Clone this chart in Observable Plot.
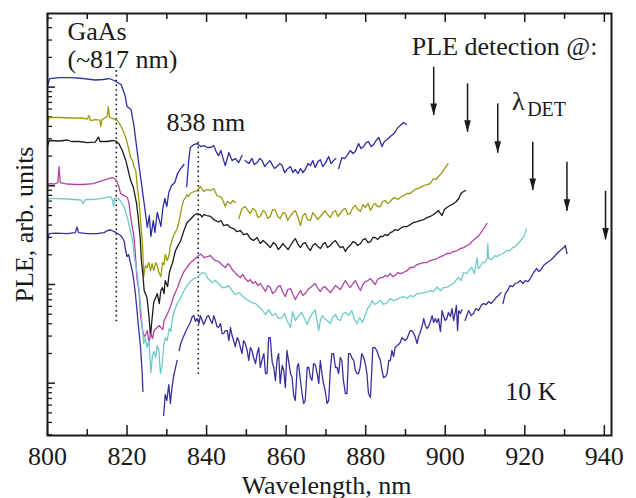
<!DOCTYPE html>
<html><head><meta charset="utf-8">
<script src="https://cdn.jsdelivr.net/npm/d3@7"></script>
<script src="https://cdn.jsdelivr.net/npm/@observablehq/plot@0.6"></script>
<style>body{margin:0;background:#fff} svg text{font-family:"Liberation Serif","Times New Roman",serif !important;}</style>
</head><body><div id="chart"></div>
<script>
// Tick values
const xTicksMajor = [800, 820, 840, 860, 880, 900, 920, 940];
const xTicksMinor = [810, 830, 850, 870, 890, 910, 930];
const yTicksMajor = [1, 10, 100, 1000];
const yTicksMinor = [0.3, 0.4, 0.5, 0.6, 0.7, 0.8, 0.9, 2, 3, 4, 5, 6, 7, 8, 9,
  20, 30, 40, 50, 60, 70, 80, 90, 200, 300, 400, 500, 600, 700, 800, 900, 2000, 3000, 4000, 5000];

// PLE spectra: [wavelength nm, log10(PLE, arb. units)], null = gap in the trace
const pleBlue = [[800.0,3.006],[800.5,3.087],[803,3.097],[806,3.097],[809,3.087],[812,3.072],[814,3.077],[815.5,3.087],[817,3.062],[818.5,3.026],[819.5,2.915],[820,2.803],[821,2.773],[821.8,2.591],[822.2,2.459],[823,2.205],[823.7,2.003],[824.3,1.821],[825.1,1.578],[825.6,1.699],[826.0,1.486],[826.6,1.648],[827.0,1.527],[827.6,1.730],[828.5,1.588],[829.0,1.770],[829.5,1.871],[830.0,1.790],[830.5,1.932],[831.2,2.003],[832.0,2.033],[832.7,2.124],[833.5,2.175],[834.3,2.216],[834.6,null],[835.0,1.993],[835.5,2.255],[835.9,2.388],[836.8,2.418],[837.6,2.428],[838.5,2.398],[839.3,2.407],[840.2,2.388],[841.0,2.388],[841.8,2.407],[842.4,2.347],[843.0,2.306],[843.6,2.357],[844.3,2.255],[844.7,2.205],[845.6,2.337],[846.4,2.255],[847.2,2.277],[848.1,2.236],[848.9,2.306],[849.3,null],[849.7,2.255],[850.6,2.225],[851.4,2.277],[852.0,2.215],[852.7,2.236],[853.4,2.277],[854.0,2.255],[854.6,2.195],[855.2,2.225],[855.9,2.255],[856.5,2.215],[857.1,2.175],[857.7,2.195],[858.4,2.225],[859.0,2.205],[859.6,2.134],[860.2,2.165],[861.1,2.195],[861.7,2.134],[862.3,2.165],[863.0,2.124],[863.6,2.175],[864.2,2.134],[864.8,2.165],[865.5,2.225],[866.1,2.205],[866.7,2.255],[867.3,2.185],[868.0,2.245],[868.6,2.265],[869.2,2.195],[869.8,2.225],[870.7,2.296],[871.3,2.225],[871.9,2.255],[872.5,2.276],[872.8,null],[873.2,2.175],[874.0,2.286],[874.7,2.276],[875.3,2.306],[876.1,2.357],[876.8,2.327],[877.4,2.347],[878.2,2.428],[878.8,2.378],[879.5,2.398],[880.1,2.438],[880.7,2.448],[881.4,2.398],[882.0,2.418],[882.6,2.459],[883.3,2.489],[884.1,2.398],[884.7,2.448],[885.4,2.469],[886.2,2.499],[886.8,2.519],[887.5,2.550],[888.1,2.591],[888.7,2.611],[889.5,2.641],[890.2,2.621]];

const pleOlive = [[800.0,2.621],[800.4,2.692],[803,2.692],[806,2.687],[808.5,2.687],[810.0,2.676],[810.4,2.712],[810.8,2.661],[812,2.671],[813.2,2.666],[813.4,2.600],[813.7,2.671],[815.0,2.702],[815.3,2.803],[815.6,2.692],[816.8,2.676],[817.6,2.661],[818.4,2.611],[819.3,2.529],[820.1,2.428],[820.9,2.286],[821.4,2.256],[821.8,2.185],[822.2,2.155],[822.6,1.982],[823.0,1.851],[823.4,1.648],[823.9,1.395],[824.2,1.081],[824.6,1.192],[825.0,1.172],[825.5,1.222],[825.9,1.141],[826.3,1.212],[826.7,1.141],[827.2,1.222],[827.6,1.192],[828.0,1.121],[828.5,1.081],[828.9,1.222],[829.3,1.202],[829.6,1.304],[830.1,1.243],[830.5,1.283],[830.9,1.395],[831.3,1.445],[831.7,1.496],[832.1,1.526],[832.6,1.567],[833.0,1.628],[833.4,1.709],[833.8,1.790],[834.2,1.851],[834.7,1.881],[835.1,1.911],[835.5,1.891],[835.9,1.922],[836.8,1.942],[837.6,1.952],[838.4,1.993],[839.3,1.942],[840.1,1.962],[841.0,1.952],[841.8,1.972],[842.6,1.901],[843.4,1.891],[843.9,1.871],[844.7,1.790],[845.2,1.841],[846.0,1.820],[846.6,1.851],[847.2,1.830],[847.6,null],[848.1,1.668],[848.9,1.770],[849.7,1.790],[850.4,1.749],[851.0,1.719],[851.6,1.770],[852.3,1.749],[852.9,1.678],[853.5,1.689],[854.2,1.749],[854.8,1.729],[855.4,1.668],[856.0,1.689],[856.6,1.759],[857.3,1.749],[857.9,1.689],[858.5,1.668],[859.2,1.729],[859.8,1.719],[860.4,1.648],[861.1,1.699],[861.7,1.729],[862.3,1.749],[863.0,1.678],[863.6,1.597],[864.2,1.699],[864.8,1.719],[865.4,1.658],[866.1,1.648],[866.7,1.729],[867.3,1.699],[867.9,1.658],[868.6,1.689],[869.2,1.719],[869.8,1.749],[870.4,1.709],[871.1,1.678],[871.7,1.729],[872.4,1.749],[873.0,1.689],[873.6,1.719],[874.3,1.759],[874.9,1.770],[875.5,1.709],[876.1,1.719],[876.8,1.780],[877.4,1.800],[878.0,1.759],[878.7,1.739],[879.3,1.810],[879.9,1.780],[880.6,1.820],[881.2,1.749],[881.8,1.800],[882.4,1.820],[883.0,1.790],[883.7,1.790],[884.3,1.841],[884.9,1.851],[885.5,1.820],[886.2,1.841],[886.8,1.871],[887.4,1.881],[888.1,1.861],[888.7,1.881],[889.5,1.901],[890.4,1.922],[891.2,1.922],[892.0,1.952],[892.9,1.972],[893.7,1.982],[894.6,2.003],[895.4,2.013],[896.2,2.023],[897.1,2.074],[897.7,2.064],[898.3,2.094],[899.2,2.134],[900.0,2.185],[900.7,2.226]];

const pleBlack = [[800.0,2.398],[800.4,2.459],[803,2.454],[805,2.464],[806,2.449],[808,2.449],[810,2.438],[812,2.443],[812.8,2.494],[813.2,2.449],[815,2.449],[816.5,2.459],[817.3,2.449],[818.0,2.423],[818.8,2.357],[819.7,2.256],[820.3,2.155],[820.9,2.053],[821.6,1.982],[821.9,1.921],[822.4,1.820],[822.8,1.678],[823.3,1.476],[823.6,1.243],[824.0,1.091],[824.3,0.939],[825.0,0.868],[825.5,0.685],[825.9,0.473],[826.2,0.615],[826.7,0.817],[827.2,0.868],[827.6,0.908],[828.1,0.807],[828.5,0.939],[828.9,0.969],[829.3,0.908],[829.6,1.040],[830.2,0.979],[830.6,1.111],[831.0,1.172],[831.4,1.212],[831.8,1.283],[832.2,1.344],[832.7,1.384],[833.1,1.415],[833.5,1.445],[834.3,1.547],[835.1,1.628],[835.9,1.658],[836.8,1.699],[837.6,1.719],[838.4,1.709],[838.9,1.684],[839.3,1.709],[840.1,1.699],[841.0,1.689],[841.8,1.658],[843.0,1.633],[843.6,1.648],[844.3,1.597],[845.2,1.607],[846.0,1.577],[846.8,1.567],[847.6,1.536],[848.5,1.547],[849.3,1.506],[850.2,1.516],[851.0,1.465],[851.8,1.445],[852.7,1.476],[853.5,1.415],[854.2,1.445],[854.8,1.425],[855.5,1.395],[856.0,1.374],[856.8,1.425],[857.4,1.405],[858.0,1.354],[858.5,1.374],[859.2,1.415],[859.8,1.384],[860.5,1.354],[861.1,1.395],[861.7,1.435],[862.3,1.465],[863.0,1.405],[863.6,1.374],[864.2,1.415],[864.8,1.425],[865.5,1.374],[866.1,1.344],[866.7,1.395],[867.3,1.415],[868.0,1.384],[868.6,1.364],[869.2,1.405],[869.8,1.425],[870.4,1.374],[871.1,1.395],[871.7,1.425],[872.4,1.445],[873.0,1.405],[873.6,1.374],[874.3,1.384],[874.9,1.334],[875.5,1.374],[876.1,1.395],[876.8,1.435],[877.4,1.425],[878.0,1.395],[878.7,1.415],[879.3,1.455],[879.9,1.465],[880.6,1.425],[881.2,1.435],[881.8,1.476],[882.4,1.476],[883.0,1.455],[883.7,1.486],[884.3,1.486],[884.9,1.506],[885.5,1.496],[886.2,1.526],[886.8,1.536],[887.4,1.557],[888.1,1.547],[888.7,1.567],[889.5,1.587],[890.4,1.587],[891.2,1.607],[892.0,1.628],[892.9,1.638],[893.7,1.648],[894.6,1.658],[895.4,1.678],[896.2,1.689],[897.1,1.709],[897.7,1.729],[898.3,1.749],[898.8,1.719],[899.2,1.699],[899.8,1.759],[900.4,1.780],[901.2,1.800],[902.1,1.820],[902.8,1.841],[903.4,1.871],[903.8,1.911],[904.2,1.932],[905.1,1.952]];

const pleMagenta = [[800.0,1.982],[800.4,2.023],[801.7,2.018],[802.6,2.033],[802.9,2.195],[803.2,2.033],[805,2.018],[807,2.013],[809,2.013],[811.5,2.023],[813.8,2.053],[815.1,2.069],[816.3,2.084],[817.2,2.064],[817.6,2.023],[818.0,1.982],[818.4,1.921],[819.3,1.901],[820.1,1.881],[820.5,1.820],[820.9,1.689],[821.3,1.587],[821.6,1.516],[821.9,1.415],[822.2,1.243],[822.5,1.060],[823.0,0.939],[823.4,0.685],[823.9,0.533],[824.3,0.472],[824.7,0.492],[825.1,0.533],[825.5,0.411],[826.0,0.503],[826.4,0.452],[826.8,0.533],[827.6,0.564],[828.1,0.584],[828.5,0.564],[829.0,0.543],[829.3,0.635],[830.2,0.706],[831.0,0.787],[831.8,0.888],[832.7,0.969],[833.5,1.060],[834.3,1.131],[835.2,1.182],[836.0,1.222],[836.9,1.253],[837.7,1.283],[838.5,1.308],[839.4,1.273],[840.2,1.283],[841.0,1.293],[841.6,1.263],[842.2,1.243],[843.0,1.233],[843.8,1.202],[844.7,1.172],[845.4,1.212],[846.0,1.182],[846.6,1.141],[847.2,1.121],[847.8,1.091],[848.5,1.070],[849.1,1.101],[849.7,1.060],[850.4,1.030],[851.0,1.050],[851.6,1.010],[852.3,1.030],[852.9,0.989],[853.5,1.010],[854.2,0.969],[854.8,0.929],[855.4,0.989],[856.0,0.969],[856.6,0.908],[857.3,0.929],[857.9,0.979],[858.5,0.989],[859.2,0.918],[859.8,0.878],[860.4,0.949],[861.1,0.959],[861.7,0.898],[862.3,0.847],[863.0,0.898],[863.6,0.939],[864.2,0.888],[864.8,0.908],[865.5,0.949],[866.1,0.969],[866.7,0.989],[867.3,1.010],[868.0,0.959],[868.6,0.929],[869.2,0.969],[869.8,0.979],[870.4,0.949],[871.1,0.918],[871.7,0.949],[872.4,0.989],[873.0,0.969],[873.6,0.949],[874.3,0.999],[874.9,1.040],[875.5,0.999],[876.1,0.969],[876.8,1.010],[877.4,1.040],[878.0,0.989],[878.7,0.939],[879.3,0.999],[879.9,1.030],[880.6,1.040],[881.2,1.060],[881.8,1.030],[882.4,0.999],[883.0,1.050],[883.7,1.070],[884.3,1.070],[884.9,1.091],[885.5,1.080],[886.2,1.111],[886.8,1.080],[887.4,1.091],[888.1,1.121],[888.7,1.111],[889.5,1.121],[890.4,1.141],[891.2,1.172],[892.0,1.172],[892.9,1.202],[893.7,1.212],[894.6,1.222],[895.4,1.222],[896.2,1.243],[897.1,1.253],[898.0,1.263],[898.8,1.283],[899.6,1.293],[900.4,1.314],[901.2,1.314],[902.1,1.334],[903.0,1.344],[903.8,1.364],[904.6,1.374],[905.5,1.395],[906.1,1.405],[906.7,1.435],[907.6,1.465],[908.2,1.486],[908.8,1.516],[909.7,1.567],[910.5,1.618]];

const pleCyan = [[800.0,1.810],[800.3,1.871],[802,1.871],[805,1.866],[808.4,1.856],[809.0,1.820],[809.5,1.861],[811.5,1.861],[814.2,1.876],[815.9,1.891],[816.4,1.851],[816.6,1.790],[816.9,1.876],[817.6,1.876],[818.4,1.846],[819.3,1.780],[820.1,1.678],[820.8,1.547],[821.4,1.445],[821.9,1.263],[822.5,1.121],[822.9,0.989],[823.4,0.787],[823.8,0.584],[824.2,0.402],[824.6,0.462],[825.0,0.361],[825.5,0.432],[826.0,0.108],[826.4,0.280],[826.8,0.321],[827.2,0.260],[827.6,0.381],[828.0,0.331],[828.4,0.098],[828.8,0.179],[829.2,0.371],[829.6,0.462],[830.1,0.432],[830.6,0.554],[831.0,0.523],[831.4,0.655],[831.8,0.716],[832.6,0.807],[833.4,0.858],[834.2,0.929],[835.1,0.989],[835.9,1.030],[836.8,1.060],[837.6,1.070],[838.4,1.101],[839.0,1.121],[839.7,1.111],[840.3,1.060],[841.4,1.020],[842.2,1.040],[843.0,1.010],[843.9,0.969],[844.7,0.969],[845.5,0.989],[846.4,0.939],[847.2,0.898],[848.1,0.918],[848.9,0.888],[849.7,0.858],[850.6,0.837],[851.4,0.817],[852.3,0.807],[853.1,0.777],[853.9,0.746],[854.8,0.696],[855.6,0.746],[856.5,0.685],[857.3,0.706],[858.1,0.655],[859.0,0.665],[859.6,0.706],[860.2,0.635],[861.1,0.564],[861.6,0.726],[862.3,0.635],[863.0,0.675],[863.9,0.716],[864.6,0.655],[865.3,0.594],[866.0,0.665],[866.6,0.706],[867.3,0.746],[868.2,0.533],[868.6,0.635],[869.1,0.685],[869.7,0.655],[870.3,0.635],[871.1,0.604],[871.7,0.665],[872.4,0.696],[873.0,0.645],[873.6,0.635],[874.3,0.706],[875.0,0.716],[875.7,0.685],[876.5,0.736],[877.1,0.655],[877.8,0.604],[878.5,0.665],[879.2,0.614],[879.9,0.696],[880.6,0.767],[881.2,0.787],[881.6,0.837],[882.3,0.797],[883.0,0.817],[883.7,0.837],[884.5,0.797],[885.4,0.817],[886.2,0.858],[886.9,0.837],[887.9,0.848],[888.7,0.868],[889.5,0.878],[890.4,0.858],[891.2,0.888],[892.0,0.878],[892.9,0.908],[893.7,0.908],[894.6,0.918],[895.4,0.923],[896.2,0.939],[897.1,0.929],[897.9,0.974],[898.8,0.939],[899.6,0.969],[900.4,0.974],[901.2,0.989],[902.1,1.010],[902.8,1.050],[903.4,1.070],[904.0,1.040],[904.6,1.121],[905.5,1.111],[906.1,1.151],[906.7,1.172],[907.3,1.111],[908.0,1.273],[908.3,1.161],[908.8,1.182],[909.4,1.222],[910.0,1.222],[910.5,1.263],[910.7,1.415],[910.9,1.263],[911.7,1.253],[912.4,1.293],[913.0,1.283],[913.8,1.303],[914.6,1.314],[915.5,1.344],[916.3,1.344],[917.0,1.374],[917.6,1.384],[918.3,1.415],[918.8,1.435],[919.3,1.465],[919.7,1.486],[920.1,1.516],[920.4,1.567]];

const pleNavy = [[800.0,1.445],[800.4,1.516],[802,1.521],[805,1.516],[807.0,1.526],[807.4,1.582],[807.8,1.526],[810,1.516],[812.5,1.516],[814.2,1.526],[815.1,1.547],[815.9,1.552],[816.8,1.536],[817.6,1.516],[818.4,1.496],[818.8,1.476],[819.3,1.435],[819.6,1.354],[820.0,1.283],[820.4,1.303],[820.9,1.212],[821.3,1.141],[821.7,1.040],[822.1,0.908],[822.5,0.736],[822.9,0.564],[823.4,0.361],[823.8,0.108],[824.0,-0.085],[824.2,null],[829.2,-0.328],[829.6,-0.115],[830.0,-0.176],[830.5,-0.014],[830.9,-0.206],[831.3,-0.044],[831.7,0.067],[832.2,0.159],[832.6,0.230],[832.8,null],[833.1,0.331],[833.5,0.402],[834.2,0.473],[835.1,0.554],[835.9,0.615],[836.4,0.675],[836.8,0.685],[837.2,0.625],[837.6,0.655],[838.1,0.604],[838.4,0.685],[838.9,0.635],[839.3,0.594],[839.7,0.635],[840.1,0.675],[840.5,0.685],[841.0,0.635],[841.4,0.604],[841.8,0.685],[842.2,0.635],[842.6,0.574],[843.0,0.564],[843.5,0.604],[843.9,0.503],[844.3,0.503],[844.7,0.533],[845.2,0.533],[845.6,0.432],[846.0,0.564],[846.4,0.483],[846.8,0.432],[847.2,0.371],[847.7,0.462],[848.1,0.432],[848.5,0.361],[848.9,0.300],[849.3,0.432],[849.7,0.402],[850.2,0.331],[850.6,0.230],[851.0,0.361],[851.4,0.331],[851.8,0.260],[852.3,0.199],[852.7,0.300],[853.1,0.361],[853.5,0.159],[853.9,0.230],[854.4,0.300],[854.8,0.098],[855.2,0.098],[855.6,0.462],[856.0,0.462],[856.5,0.209],[856.9,0.159],[857.3,0.027],[857.7,0.230],[858.1,0.300],[858.5,-0.004],[859.0,0.179],[859.4,0.128],[859.8,-0.044],[860.2,0.331],[860.6,0.230],[861.1,0.098],[861.5,0.057],[861.9,-0.125],[862.3,-0.176],[862.8,0.169],[863.1,0.199],[863.6,0.027],[864.0,-0.105],[864.4,-0.206],[864.8,-0.176],[865.3,0.159],[865.7,0.159],[866.1,0.057],[866.5,0.027],[866.9,0.199],[867.3,0.189],[867.8,0.098],[868.2,-0.004],[868.6,0.230],[869.0,0.098],[869.4,-0.004],[869.8,-0.075],[870.3,-0.206],[870.7,-0.176],[871.1,0.128],[871.5,0.300],[871.9,0.300],[872.4,0.159],[872.8,0.159],[873.2,0.098],[873.6,0.260],[874.0,0.230],[874.4,0.027],[874.9,-0.105],[875.3,-0.105],[875.7,0.300],[876.1,0.300],[876.5,0.260],[877.0,0.230],[877.4,0.128],[877.8,0.098],[878.2,0.098],[878.6,0.159],[879.0,0.300],[879.5,0.260],[879.9,0.199],[880.3,0.098],[880.7,-0.105],[881.2,-0.146],[881.8,0.361],[882.3,0.361],[882.8,0.331],[883.2,0.280],[883.7,0.230],[884.1,0.128],[884.5,0.057],[885.0,0.067],[885.4,0.098],[885.8,0.230],[886.2,0.230],[886.6,0.331],[887.0,0.270],[887.4,0.361],[887.9,0.381],[888.3,0.392],[888.7,0.412],[889.1,0.462],[889.9,0.432],[890.4,0.452],[891.2,0.533],[891.6,0.533],[892.1,0.503],[892.5,0.462],[892.9,0.402],[893.3,0.473],[893.7,0.513],[894.1,0.564],[894.6,0.655],[895.0,0.584],[895.4,0.554],[895.8,0.574],[896.2,0.614],[896.7,0.685],[897.1,0.614],[897.5,0.655],[897.9,0.614],[898.3,0.655],[898.8,0.523],[899.2,0.736],[899.6,0.675],[900.0,0.635],[900.4,0.655],[900.8,0.716],[901.3,0.675],[901.7,0.756],[902.1,0.635],[902.5,0.716],[902.8,0.787],[903.1,0.533],[903.4,0.736],[903.8,0.706],[904.2,0.746],[904.5,null],[905.0,0.635],[905.5,0.696],[905.9,0.736],[906.5,0.685],[907.1,0.706],[907.7,0.756],[908.4,0.736],[909.0,0.787],[909.6,0.807],[910.3,0.797],[910.9,0.827],[911.5,0.807],[912.2,0.837],[912.8,0.868],[913.4,0.888],[914.0,0.918],[914.2,null],[914.5,0.807],[915.1,0.908],[915.7,0.939],[916.3,0.989],[917.0,0.979],[917.6,1.010],[918.3,1.020],[918.9,1.040],[919.5,1.010],[920.1,1.040],[920.8,1.030],[921.4,1.060],[922.2,1.121],[923.0,1.162],[923.5,1.131],[923.9,1.141],[924.7,1.192],[925.6,1.222],[926.4,1.243],[927.2,1.273],[928.1,1.314],[928.9,1.344],[929.8,1.374],[930.2,1.395],[930.6,1.314]];

// Detection-wavelength arrows (nm) and their vertical extent (log10 units)
const arrowNm = [897.1, 905.6, 913.2, 922.0, 930.6, 940.3];
const arrowTopLg = [3.201, 3.033, 2.830, 2.441, 2.239, 1.945];
const arrowTipLg = [2.712, 2.543, 2.330, 1.952, 1.742, 1.452];

// Dotted markers: GaAs (~817 nm) and 838 nm
const markerNm = [817.3, 837.9];
const markerTopLg = [3.168, 2.441];
const markerBottomLg = [0.618, 0.078];

// Annotations (x in nm, y in log10 units)
const notes = [
  {text: "GaAs", nm: 805.0, lg: 3.482},
  {text: "(~817 nm)", nm: 805.0, lg: 3.192},
  {text: "838 nm", nm: 829.9, lg: 2.560},
  {text: "PLE detection @:", nm: 891.6, lg: 3.330},
  {text: "\u03bb", nm: 916.8, lg: 2.763},
  {text: "10 K", nm: 915.1, lg: -0.175}
];
const subNotes = [{text: "DET", nm: 920.6, lg: 2.712}];

const toRows = (arr) => arr.map(([nm, lg]) => ({nm, ple: lg == null ? NaN : 10 ** lg}));
const series = [
  {rows: toRows(pleBlue), color: "#2c2ca6"},
  {rows: toRows(pleOlive), color: "#9c9a12"},
  {rows: toRows(pleBlack), color: "#1c1c1c"},
  {rows: toRows(pleMagenta), color: "#ad45a8"},
  {rows: toRows(pleCyan), color: "#6fcaca"},
  {rows: toRows(pleNavy), color: "#37309c"}
];
const arrows = arrowNm.map((nm, i) => ({nm, top: 10 ** arrowTopLg[i], tip: 10 ** arrowTipLg[i]}));
const markers = markerNm.map((nm, i) => ({nm, top: 10 ** markerTopLg[i], bottom: 10 ** markerBottomLg[i]}));

const W = 636, H = 498, mL = 47, mR = 25, mT = 13, mB = 63;
const fw = W - mL - mR, fh = H - mT - mB;
const ink = "#1a1a1a";
const serif = "Liberation Serif";
const arrowHead = {draw(ctx) { ctx.moveTo(0, 0); ctx.lineTo(-3.3, -12); ctx.lineTo(3.3, -12); ctx.closePath(); }};
const txt = {fill: ink, fontFamily: serif, fontSize: 26};

const chart = Plot.plot({
  width: W, height: H,
  marginLeft: mL, marginRight: mR, marginTop: mT, marginBottom: mB,
  style: {fontFamily: serif, background: "#fff", color: ink},
  x: {domain: [800, 941.8], axis: null},
  y: {type: "log", domain: [0.295, 5570], axis: null},
  marks: [
    // inward ticks on the frame
    Plot.tickX(xTicksMajor, {x: d => d, insetTop: fh - 10, stroke: ink, strokeWidth: 1.5}),
    Plot.tickX(xTicksMinor, {x: d => d, insetTop: fh - 6, stroke: ink, strokeWidth: 1.5}),
    Plot.tickX(xTicksMajor, {x: d => d, insetBottom: fh - 9, stroke: ink, strokeWidth: 1.5}),
    Plot.tickX(xTicksMinor, {x: d => d, insetBottom: fh - 6, stroke: ink, strokeWidth: 1.5}),
    Plot.tickY(yTicksMajor, {y: d => d, insetRight: fw - 8, stroke: ink, strokeWidth: 1.5}),
    Plot.tickY(yTicksMinor, {y: d => d, insetRight: fw - 5, stroke: ink, strokeWidth: 1.3}),
    // dotted reference lines
    Plot.ruleX(markers, {x: "nm", y1: "top", y2: "bottom", stroke: ink, strokeWidth: 1.6, strokeDasharray: "1.6,3.2"}),
    // spectra
    ...series.map(s => Plot.line(s.rows, {x: "nm", y: "ple", stroke: s.color, strokeWidth: 1.3, curve: "linear"})),
    // arrows
    Plot.ruleX(arrows, {x: "nm", y1: "top", y2: "tip", stroke: ink, strokeWidth: 1.5}),
    Plot.dot(arrows, {x: "nm", y: "tip", symbol: arrowHead, fill: ink, stroke: "none"}),
    // annotations
    Plot.text(notes, {x: "nm", y: d => 10 ** d.lg, text: "text", textAnchor: "start", lineAnchor: "bottom", ...txt}),
    Plot.text(subNotes, {x: "nm", y: d => 10 ** d.lg, text: "text", textAnchor: "start", lineAnchor: "bottom", ...txt, fontSize: 20}),
    // tick labels and axis titles
    Plot.text(xTicksMajor, {x: d => d, frameAnchor: "bottom", lineAnchor: "bottom", dy: 29, ...txt}),
    Plot.text(["Wavelength, nm"], {frameAnchor: "bottom", lineAnchor: "bottom", dy: 58, dx: -3, ...txt}),
    Plot.text(["PLE, arb. units"], {frameAnchor: "left", textAnchor: "middle", lineAnchor: "bottom", rotate: -90, dx: -15, ...txt}),
    Plot.frame({stroke: ink, strokeWidth: 2})
  ]
});
document.getElementById("chart").appendChild(chart);
</script>
</body></html>
